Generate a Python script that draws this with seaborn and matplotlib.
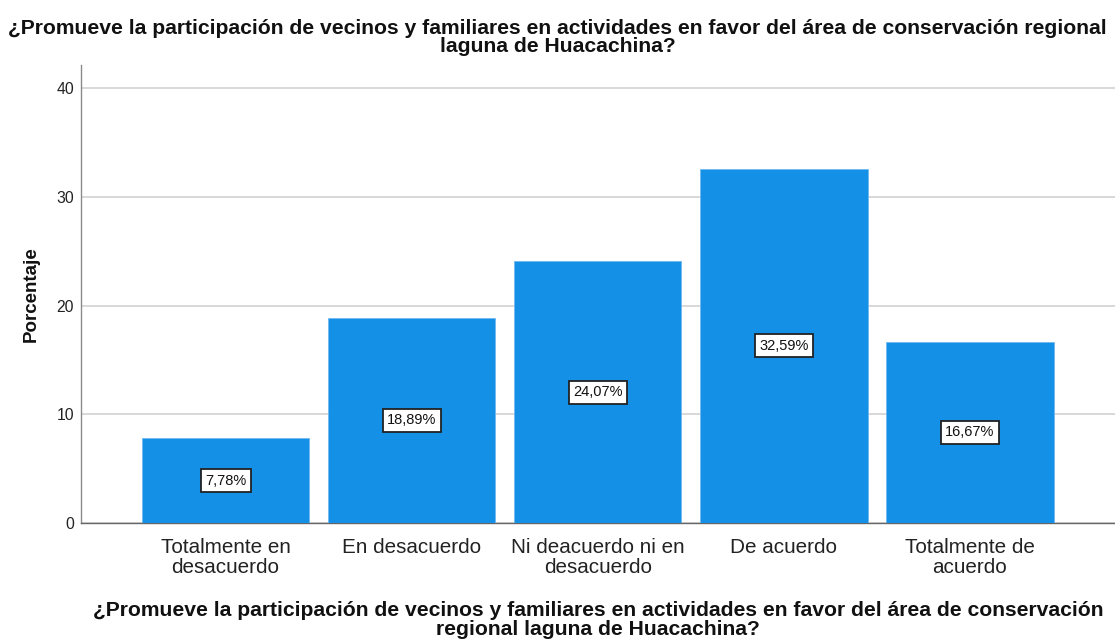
import matplotlib
matplotlib.use("Agg")
import matplotlib.pyplot as plt
import seaborn as sns
import pandas as pd

categories = ["Totalmente en\ndesacuerdo", "En desacuerdo", "Ni deacuerdo ni en\ndesacuerdo",
              "De acuerdo", "Totalmente de\nacuerdo"]
values = [7.78, 18.89, 24.07, 32.59, 16.67]
labels = ["7,78%", "18,89%", "24,07%", "32,59%", "16,67%"]
yticks = [0, 10, 20, 30, 40]

title = ("¿Promueve la participación de vecinos y familiares en actividades en favor del área de conservación regional\n"
         "laguna de Huacachina?")
xlabel = ("¿Promueve la participación de vecinos y familiares en actividades en favor del área de conservación\n"
          "regional laguna de Huacachina?")

sns.set_theme(style="white")
plt.rcParams['font.family'] = ['Liberation Sans', 'DejaVu Sans']

df = pd.DataFrame({"cat": categories, "val": values})

fig = plt.figure(figsize=(11.15, 6.39), dpi=100)
ax = fig.add_axes([0.0726, 0.1815, 0.9274, 0.7165])

sns.barplot(data=df, x="cat", y="val", ax=ax, color="#1490e6", width=0.9,
            saturation=1, edgecolor="#6fb8f0", linewidth=0.6, zorder=3)

ax.set_xlim(-0.777, 4.78)
ax.set_ylim(0, 42.1)
ax.set_yticks(yticks)
ax.set_yticklabels([str(t) for t in yticks], fontsize=11.3, color="#222222")
ax.tick_params(axis='x', labelsize=14.9, colors="#222222", length=0, pad=11)
ax.tick_params(axis='y', length=0, pad=5)
for lab in ax.get_xticklabels():
    lab.set_linespacing(1.05)

ax.yaxis.grid(True, color="#d6d6d6", linewidth=1.3, zorder=0)
ax.xaxis.grid(False)
for s in ["top", "right"]:
    ax.spines[s].set_visible(False)
ax.spines["left"].set_color("#8a8a8a")
ax.spines["bottom"].set_color("#666666")
for s in ["left", "bottom"]:
    ax.spines[s].set_linewidth(1.0)

for i, (v, lab) in enumerate(zip(values, labels)):
    ax.text(i, v / 2, lab, ha="center", va="center", fontsize=10.5, color="#111111",
            bbox=dict(boxstyle="square,pad=0.3", facecolor="white", edgecolor="#222222", linewidth=1.3),
            zorder=5)

ax.set_ylabel("Porcentaje", fontsize=13.5, fontweight="bold", labelpad=12, color="#111111")
ax.set_xlabel(xlabel, fontsize=15.2, fontweight="bold", labelpad=17, linespacing=1.0,
              color="#111111")

fig.text(0.5, 0.971, title, ha="center", va="top", fontsize=15.2, fontweight="bold",
         linespacing=0.95, color="#111111")

fig.savefig("out.png", dpi=100)
